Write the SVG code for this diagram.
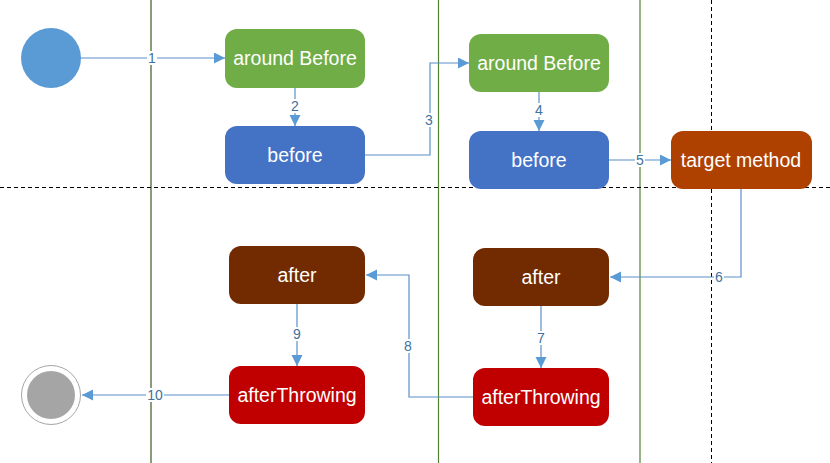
<svg xmlns="http://www.w3.org/2000/svg" width="830" height="463" viewBox="0 0 830 463">
<defs>
<marker id="arr" markerWidth="12" markerHeight="12" refX="11" refY="5.5" orient="auto" markerUnits="userSpaceOnUse">
<path d="M0,0 L11,5.5 L0,11 Z" fill="#5B9BD5"/>
</marker>
<style>
.lane{stroke-width:1.2;fill:none}
.dash{stroke:#000;stroke-width:1;stroke-dasharray:4,3;fill:none}
.conn{stroke:#5B8FC8;stroke-width:1.2;fill:none;marker-end:url(#arr)}
.lbl{font-family:"Liberation Sans",Arial,sans-serif;font-size:14px;fill:#41719C;text-anchor:middle;dominant-baseline:central}
.lb{fill:#fff}
.nt{font-family:"Liberation Sans",Arial,sans-serif;font-size:19.5px;fill:#fff;text-anchor:middle;dominant-baseline:central}
</style>
</defs>
<rect width="830" height="463" fill="#fff"/>
<g id="lanes">
<line class="lane" x1="151" y1="0" x2="151" y2="463" stroke="#3A5A22"/>
<line class="lane" x1="438.5" y1="0" x2="438.5" y2="463" stroke="#548235"/>
<line class="lane" x1="640" y1="0" x2="640" y2="463" stroke="#548235" stroke-width="1.6"/>
<line class="dash" x1="711.5" y1="0" x2="711.5" y2="463"/>
<line class="dash" x1="0" y1="187.5" x2="830" y2="187.5"/>
</g>
<g id="connectors">
<path class="conn" d="M81,58 H225"/>
<path class="conn" d="M295,88 V126"/>
<path class="conn" d="M365,155 H430 V63 H469"/>
<path class="conn" d="M539,92 V131"/>
<path class="conn" d="M609,160 H671"/>
<path class="conn" d="M741,189 V277 H610"/>
<path class="conn" d="M541,306 V368"/>
<path class="conn" d="M473,397 H409 V275 H366"/>
<path class="conn" d="M297,304 V366"/>
<path class="conn" d="M229,395 H82"/>
<rect class="lb" x="147" y="51" width="10" height="14"/><text class="lbl" x="152" y="58">1</text>
<rect class="lb" x="290" y="99" width="10" height="14"/><text class="lbl" x="295" y="106">2</text>
<rect class="lb" x="424" y="113" width="10" height="14"/><text class="lbl" x="429" y="120">3</text>
<rect class="lb" x="534" y="103" width="10" height="14"/><text class="lbl" x="539" y="110">4</text>
<rect class="lb" x="635" y="153" width="10" height="14"/><text class="lbl" x="640" y="160">5</text>
<rect class="lb" x="714" y="270" width="10" height="14"/><text class="lbl" x="719" y="277">6</text>
<rect class="lb" x="536" y="331" width="10" height="14"/><text class="lbl" x="541" y="338">7</text>
<rect class="lb" x="403" y="339" width="10" height="14"/><text class="lbl" x="408" y="346">8</text>
<rect class="lb" x="292" y="327" width="10" height="14"/><text class="lbl" x="297" y="334">9</text>
<rect class="lb" x="146" y="388" width="18" height="14"/><text class="lbl" x="155" y="395">10</text>
</g>
<g id="start"><circle cx="51" cy="58" r="30" fill="#5B9BD5"/></g>
<g id="end"><circle cx="51" cy="395" r="29.5" fill="#fff" stroke="#A6A6A6" stroke-width="1"/><circle cx="51" cy="395" r="24" fill="#A5A5A5"/></g>
<g id="aroundBefore1"><rect x="225" y="29" width="140" height="59" rx="12" fill="#70AD47"/><text class="nt" x="295" y="58">around Before</text></g>
<g id="before1"><rect x="225" y="126" width="140" height="58" rx="12" fill="#4472C4"/><text class="nt" x="295" y="155">before</text></g>
<g id="aroundBefore2"><rect x="469" y="34" width="140" height="58" rx="12" fill="#70AD47"/><text class="nt" x="539" y="63">around Before</text></g>
<g id="before2"><rect x="469" y="131" width="140" height="58" rx="12" fill="#4472C4"/><text class="nt" x="539" y="160">before</text></g>
<g id="target"><rect x="671" y="131" width="141" height="58" rx="12" fill="#AE4100"/><text class="nt" x="741" y="160">target method</text></g>
<g id="after1"><rect x="229" y="246" width="136" height="58" rx="12" fill="#722B00"/><text class="nt" x="297" y="275">after</text></g>
<g id="afterThrowing1"><rect x="229" y="366" width="136" height="58" rx="12" fill="#C00000"/><text class="nt" x="297" y="395">afterThrowing</text></g>
<g id="after2"><rect x="473" y="248" width="136" height="58" rx="12" fill="#722B00"/><text class="nt" x="541" y="277">after</text></g>
<g id="afterThrowing2"><rect x="473" y="368" width="136" height="58" rx="12" fill="#C00000"/><text class="nt" x="541" y="397">afterThrowing</text></g>
</svg>
